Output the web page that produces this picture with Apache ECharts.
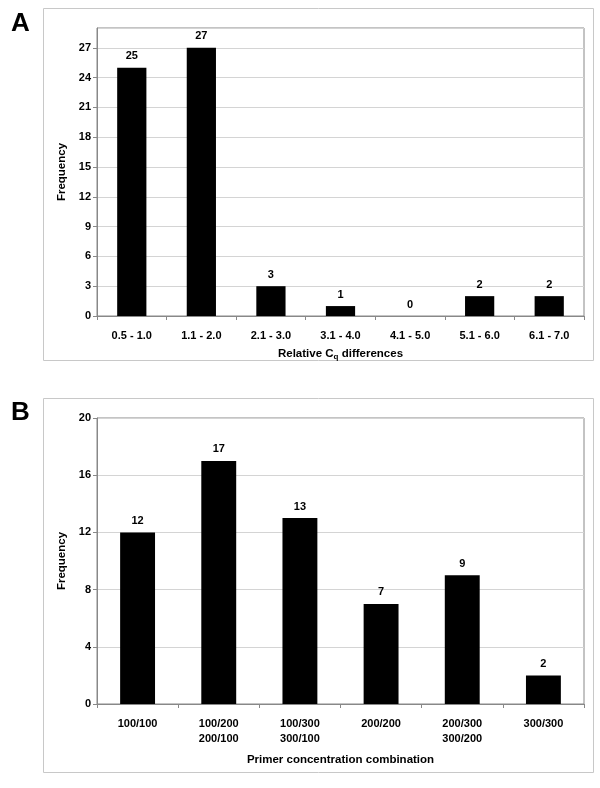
<!DOCTYPE html>
<html><head><meta charset="utf-8">
<script src="https://cdn.jsdelivr.net/npm/echarts@6/dist/echarts.min.js"></script>
<style>html,body{margin:0;padding:0;background:#fff}#c{width:600px;height:788px}</style>
</head><body><div id="c"></div>
<script>
var catsA = ['0.5 - 1.0','1.1 - 2.0','2.1 - 3.0','3.1 - 4.0','4.1 - 5.0','5.1 - 6.0','6.1 - 7.0'];
var valsA = [25, 27, 3, 1, 0, 2, 2];
var catsB = ['100/100','100/200\n200/100','100/300\n300/100','200/200','200/300\n300/200','300/300'];
var valsB = [12, 17, 13, 7, 9, 2];
var F = 'Liberation Sans, Arial, Helvetica, sans-serif';
var chart = echarts.init(document.getElementById('c'));
var axisLbl = {fontFamily:F, fontWeight:'bold', fontSize:11, color:'#000'};
function xAxis(idx, cats, name){
  return {type:'category', gridIndex:idx, data:cats,
    axisLine:{lineStyle:{color:'#888'}},
    axisTick:{show:true, length:4, lineStyle:{color:'#888'}},
    axisLabel:Object.assign({margin:12, lineHeight:15, interval:0}, axisLbl),
    name:name, nameLocation:'middle', nameGap: idx===0?31:50,
    nameTextStyle:{fontFamily:F, fontWeight:'bold', fontSize:11.5, color:'#000',
      rich:{a:{fontFamily:F, fontWeight:'bold', fontSize:11.5, color:'#000'},
            s:{fontFamily:F, fontWeight:'bold', fontSize:8, color:'#000', padding:[6,0,0,0]}}}
  };
}
function yAxis(idx, max, itv){
  return {type:'value', gridIndex:idx, min:0, max:max, interval:itv,
    axisLine:{show:true, lineStyle:{color:'#888'}},
    axisTick:{show:true, length:4, lineStyle:{color:'#888'}},
    splitLine:{lineStyle:{color:'#d4d4d4'}},
    axisLabel:Object.assign({margin:6, showMaxLabel: idx===1}, axisLbl),
    name:'Frequency', nameLocation:'middle', nameGap:28,
    nameTextStyle:{fontFamily:F, fontWeight:'bold', fontSize:11.5, color:'#000'}
  };
}
function series(idx, vals){
  return {type:'bar', xAxisIndex:idx, yAxisIndex:idx, data:vals, barWidth: idx===0?'42%':'43%',
    itemStyle:{color:'#000'},
    label:{show:true, position:'top', distance:6, fontFamily:F, fontWeight:'bold', fontSize:11, color:'#000'}};
}
chart.setOption({
  animation:false,
  backgroundColor:'#fff',
  graphic:[
    {type:'rect', shape:{x:43.5,y:8.5,width:550,height:352}, style:{fill:'none', stroke:'#c8c8c8', lineWidth:1}, z:-10},
    {type:'rect', shape:{x:43.5,y:398.5,width:550,height:374}, style:{fill:'none', stroke:'#c8c8c8', lineWidth:1}, z:-10},
    {type:'text', left:11, top:11, style:{text:'A', font:'bold 26px '+F, fill:'#000'}},
    {type:'text', left:11, top:400, style:{text:'B', font:'bold 26px '+F, fill:'#000'}}
  ],
  grid:[
    {left:97, top:28, width:487, height:288, show:true, borderColor:'#888', borderWidth:1, backgroundColor:'#fff'},
    {left:97, top:418, width:487, height:286, show:true, borderColor:'#888', borderWidth:1, backgroundColor:'#fff'}
  ],
  xAxis:[xAxis(0, catsA, '{a|Relative C}{s|q}{a| differences}'), xAxis(1, catsB, 'Primer concentration combination')],
  yAxis:[yAxis(0, 29, 3), yAxis(1, 20, 4)],
  series:[series(0, valsA), series(1, valsB)]
});
</script></body></html>
